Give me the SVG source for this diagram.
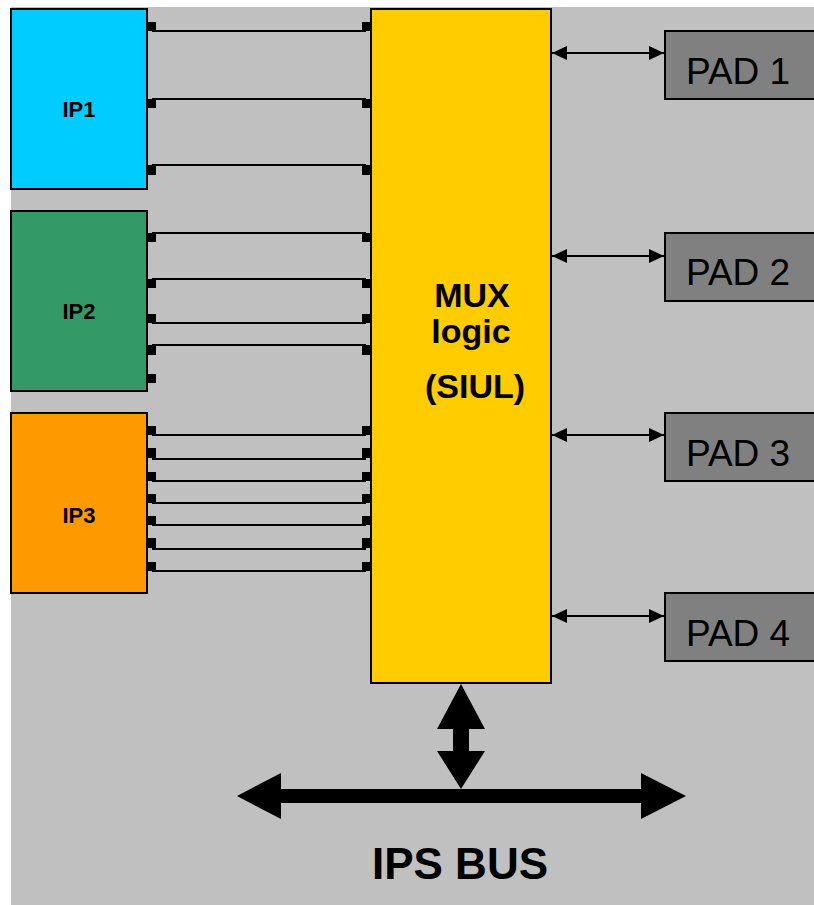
<svg xmlns="http://www.w3.org/2000/svg" width="814" height="905" viewBox="0 0 814 905">
<style>
.blk{stroke:#000;stroke-width:2}
.lbl{font-family:"Liberation Sans",Arial,sans-serif;font-weight:bold;fill:#000}
.pad{fill:#808080;stroke:#000;stroke-width:2}
.padt{font-family:"Liberation Sans",Arial,sans-serif;font-size:37px;fill:#000}
.wire{stroke:#000;stroke-width:2;fill:none}
.pin{fill:#000}
.pa{stroke:#000;stroke-width:2;fill:none;marker-start:url(#ah);marker-end:url(#ah)}
</style>
<defs>
<marker id="ah" viewBox="0 0 15 14" refX="15" refY="7" markerWidth="15" markerHeight="14" markerUnits="userSpaceOnUse" orient="auto-start-reverse">
<path d="M0,0 L15,7 L0,14 Z" fill="#000"/>
</marker>
</defs>
<rect x="11" y="7" width="803" height="898" fill="#C0C0C0"/>
<g id="connectors">
<g id="ip1-wires">
<line class="wire" x1="152" y1="31" x2="366" y2="31"/>
<line class="wire" x1="152" y1="99" x2="366" y2="99"/>
<line class="wire" x1="152" y1="165" x2="366" y2="165"/>
<rect class="pin" x="147" y="22" width="9" height="9"/><rect class="pin" x="362" y="22" width="9" height="9"/>
<rect class="pin" x="147" y="99" width="9" height="9"/><rect class="pin" x="362" y="99" width="9" height="9"/>
<rect class="pin" x="147" y="165" width="9" height="10"/><rect class="pin" x="362" y="165" width="9" height="10"/>
</g>
<g id="ip2-wires">
<line class="wire" x1="152" y1="233" x2="366" y2="233"/>
<line class="wire" x1="152" y1="279" x2="366" y2="279"/>
<line class="wire" x1="152" y1="323" x2="366" y2="323"/>
<line class="wire" x1="152" y1="345" x2="366" y2="345"/>
<rect class="pin" x="147" y="233" width="9" height="9"/><rect class="pin" x="362" y="233" width="9" height="9"/>
<rect class="pin" x="147" y="279" width="9" height="9"/><rect class="pin" x="362" y="279" width="9" height="9"/>
<rect class="pin" x="147" y="314" width="9" height="9"/><rect class="pin" x="362" y="314" width="9" height="9"/>
<rect class="pin" x="147" y="345" width="9" height="10"/><rect class="pin" x="362" y="345" width="9" height="10"/>
<rect class="pin" x="147" y="374" width="9" height="9"/>
</g>
<g id="ip3-wires">
<line class="wire" x1="152" y1="435" x2="366" y2="435"/>
<line class="wire" x1="152" y1="459" x2="366" y2="459"/>
<line class="wire" x1="152" y1="481" x2="366" y2="481"/>
<line class="wire" x1="152" y1="503" x2="366" y2="503"/>
<line class="wire" x1="152" y1="525" x2="366" y2="525"/>
<line class="wire" x1="152" y1="549" x2="366" y2="549"/>
<line class="wire" x1="152" y1="571" x2="366" y2="571"/>
<rect class="pin" x="147" y="426" width="9" height="9"/><rect class="pin" x="362" y="426" width="9" height="9"/>
<rect class="pin" x="147" y="448" width="9" height="10"/><rect class="pin" x="362" y="448" width="9" height="10"/>
<rect class="pin" x="147" y="472" width="9" height="9"/><rect class="pin" x="362" y="472" width="9" height="9"/>
<rect class="pin" x="147" y="494" width="9" height="9"/><rect class="pin" x="362" y="494" width="9" height="9"/>
<rect class="pin" x="147" y="516" width="9" height="9"/><rect class="pin" x="362" y="516" width="9" height="9"/>
<rect class="pin" x="147" y="538" width="9" height="10"/><rect class="pin" x="362" y="538" width="9" height="10"/>
<rect class="pin" x="147" y="562" width="9" height="9"/><rect class="pin" x="362" y="562" width="9" height="9"/>
</g>
<g id="pad-arrows">
<line class="pa" x1="552" y1="53" x2="664" y2="53"/>
<line class="pa" x1="552" y1="256" x2="664" y2="256"/>
<line class="pa" x1="552" y1="435" x2="664" y2="435"/>
<line class="pa" x1="552" y1="616" x2="664" y2="616"/>
</g>
<g id="bus-arrows">
<path d="M461,684 L485,729 L469,729 L469,751 L485,751 L461,789 L437,751 L453,751 L453,729 L437,729 Z" fill="#000"/>
<path d="M237,796 L281,773 L281,789 L641,789 L641,773 L686,796 L641,819 L641,803 L281,803 L281,819 Z" fill="#000"/>
</g>
</g>
<g id="ip1">
<rect class="blk" x="11" y="9" width="136" height="180" fill="#00CCFF"/>
<text class="lbl" x="79" y="117" font-size="22" text-anchor="middle">IP1</text>
</g>
<g id="ip2">
<rect class="blk" x="11" y="211" width="136" height="180" fill="#339966"/>
<text class="lbl" x="79" y="319" font-size="22" text-anchor="middle">IP2</text>
</g>
<g id="ip3">
<rect class="blk" x="11" y="413" width="136" height="180" fill="#FF9900"/>
<text class="lbl" x="79" y="523" font-size="22" text-anchor="middle">IP3</text>
</g>
<g id="mux">
<rect class="blk" x="371" y="9" width="180" height="674" fill="#FFCC00"/>
<text class="lbl" x="472" y="307" font-size="34" text-anchor="middle">MUX</text>
<text class="lbl" x="471" y="343" font-size="34" text-anchor="middle">logic</text>
<text class="lbl" x="475" y="398" font-size="34" text-anchor="middle">(SIUL)</text>
</g>
<g id="pad1">
<rect class="pad" x="665" y="31" width="160" height="68"/>
<text class="padt" x="686" y="84">PAD 1</text>
</g>
<g id="pad2">
<rect class="pad" x="665" y="233" width="160" height="68"/>
<text class="padt" x="686" y="285">PAD 2</text>
</g>
<g id="pad3">
<rect class="pad" x="665" y="413" width="160" height="68"/>
<text class="padt" x="686" y="466">PAD 3</text>
</g>
<g id="pad4">
<rect class="pad" x="665" y="593" width="160" height="68"/>
<text class="padt" x="686" y="646">PAD 4</text>
</g>
<g id="bus-label">
<text class="lbl" x="460" y="879" font-size="44" text-anchor="middle">IPS BUS</text>
</g>
</svg>
